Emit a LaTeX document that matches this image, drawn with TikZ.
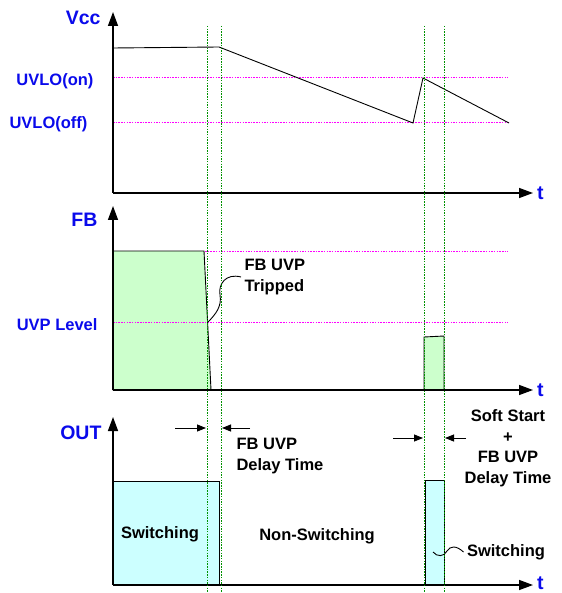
\documentclass[tikz,border=0pt]{standalone}
\usepackage{fontspec}
\setmainfont{Liberation Sans}
\usetikzlibrary{arrows.meta}
\definecolor{sigblue}{RGB}{10,10,235}
\definecolor{fbgreen}{RGB}{204,255,204}
\definecolor{outcyan}{RGB}{204,255,255}
\definecolor{markgreen}{RGB}{0,145,0}
\definecolor{levelpink}{RGB}{255,0,255}
\begin{document}
\begin{tikzpicture}[x=1pt,y=-1pt,
  axis/.style={line width=1.4pt,-{Triangle[length=14pt,width=10pt]}},
  wave/.style={line width=0.9pt},
  level/.style={levelpink,line width=1pt,dash pattern=on 1.5pt off 1.2pt},
  marker/.style={markgreen,line width=1pt,dash pattern=on 1.5pt off 1.2pt},
  delay/.style={line width=0.8pt,-{Triangle[length=9pt,width=7pt]}},
  signame/.style={sigblue,font=\bfseries\fontsize{19.5}{22}\selectfont},
  lvlname/.style={sigblue,font=\bfseries\fontsize{16.5}{20}\selectfont},
  note/.style={font=\bfseries\fontsize{16.5}{20.5}\selectfont}]
\useasboundingbox (0,0) rectangle (561,593);

% Vcc
\draw[level] (113,78) -- (508,78);
\draw[level] (113,123) -- (509,123);
\draw[axis] (113,193) -- (113,12);
\draw[axis] (113,193) -- (533,193);
\node[signame,anchor=base east] (vcc) at (104,25) {Vcc};
\node[lvlname,anchor=base east] (uvloon) at (97,86) {UVLO(on)};
\node[lvlname,anchor=base east] (uvlooff) at (91,129) {UVLO(off)};
\node[signame,anchor=west,inner sep=1pt] (t1) at (536,193) {t};
\draw[wave] (113,48) -- (219,47) -- (413,123) -- (423,78) -- (509,123);

% FB
\draw[wave,fill=fbgreen] (113,390) -- (113,251) -- (204,251) -- (211,390) -- cycle;
\draw[wave,fill=fbgreen] (424,390) -- (424,337) -- (444,336) -- (444,390) -- cycle;
\draw[level] (205,251) -- (508,251);
\draw[level] (113,322) -- (508,322);
\draw[axis] (113,390) -- (113,206);
\draw[axis] (113,390) -- (533,390);
\node[signame,anchor=base east] (fb) at (101,226) {FB};
\node[lvlname,anchor=base east] (uvp) at (101,330) {UVP Level};
\node[signame,anchor=west,inner sep=1pt] (t2) at (536,390) {t};
\coordinate (trip) at (208,322);
\node[note,align=left,anchor=west] (tripped) at (241,277) {FB UVP\\Tripped};
\draw[wave] (tripped.west) .. controls (226,273) and (218,284) .. (220,295)
  .. controls (222,306) and (216,314) .. (trip);

% OUT
\draw[wave,fill=outcyan] (113,585) rectangle (219,481);
\draw[wave,fill=outcyan] (425,585) rectangle (444,480);
\draw[axis] (113,585) -- (113,417);
\draw[axis] (113,585) -- (533,585);
\node[signame,anchor=west,inner sep=1pt] (t3) at (536,583) {t};
\node[signame,anchor=base east] (out) at (105,439) {OUT};
\node[note] (sw1) at (160,534) {Switching};
\node[note] (nonsw) at (317,536) {Non-Switching};
\node[note] (sw2) at (506,552) {Switching};
\coordinate (pulse) at (433,552);
\draw[wave] (sw2.west) .. controls (456,545) and (450,546) .. (447,551)
  .. controls (444,557) and (437,557) .. (pulse);

% delay markers
\draw[marker] (207,26) -- (207,593);
\draw[marker] (221,26) -- (221,593);
\draw[marker] (424,26) -- (424,593);
\draw[marker] (444,26) -- (444,593);
\draw[delay] (175,428) -- (206,428);
\draw[delay] (250,428) -- (222,428);
\node[note,align=left,anchor=west] (fbdelay) at (233,456) {FB UVP\\Delay Time};
\draw[delay] (393,438) -- (423,438);
\draw[delay] (466,438) -- (445,438);
\node[note,align=center] (ssdelay) at (508,448) {Soft Start\\+\\FB UVP\\Delay Time};
\end{tikzpicture}
\end{document}
